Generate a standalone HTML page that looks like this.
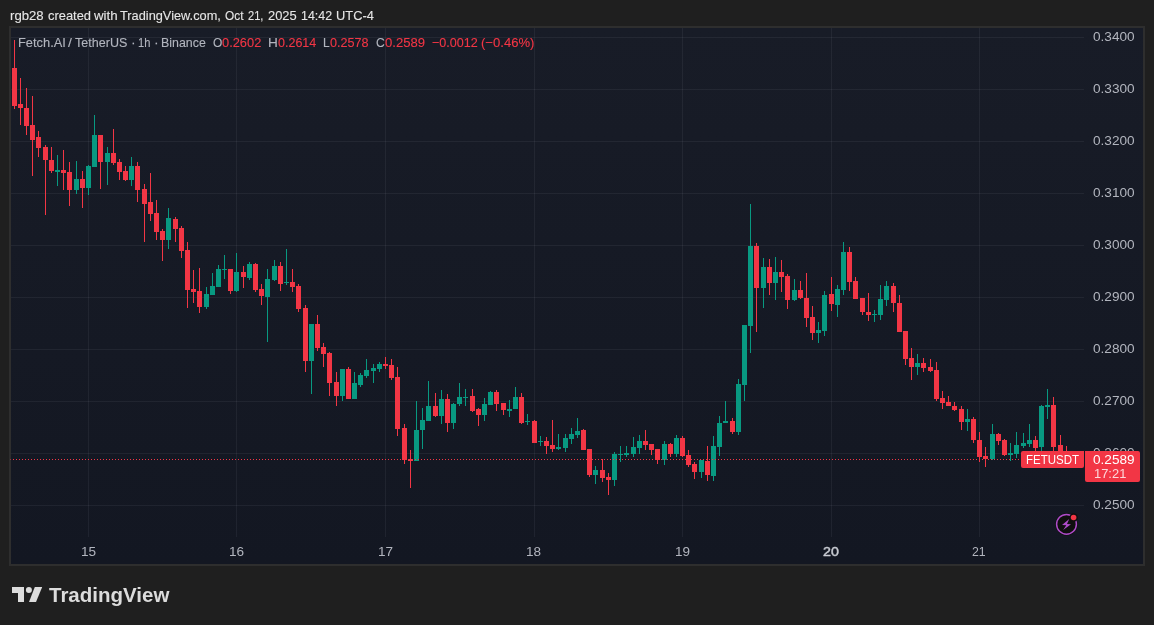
<!DOCTYPE html>
<html lang="en">
<head>
<meta charset="utf-8">
<title>FETUSDT chart</title>
<style>
html,body{margin:0;padding:0;}
body{width:1154px;height:625px;background:#1f1f1f;overflow:hidden;position:relative;
font-family:"Liberation Sans",Arial,sans-serif;}
#frame{position:absolute;left:9px;top:26px;width:1132px;height:536px;border:2px solid #2e2e2e;background:linear-gradient(to bottom,#181c27,#131722);}
#chart{position:absolute;left:0;top:0;width:1154px;height:625px;}
.t{position:absolute;display:block;white-space:pre;font-size:13px;line-height:16px;height:16px;transform-origin:0 0;}
.h{color:#e6e6e6;-webkit-text-stroke:0.1px #e6e6e6;}
.g{color:#b2b5be;-webkit-text-stroke:0.12px #b2b5be;}
.r{color:#f23645;-webkit-text-stroke:0.12px #f23645;}
.a{color:#b2b5be;}
.b{color:#c9ccd3;-webkit-text-stroke:0.45px #c9ccd3;}
#sym{position:absolute;left:1021px;top:451px;width:63px;height:17px;background:#f23645;border-radius:2px 0 2px 2px;}
#px{position:absolute;left:1085px;top:451px;width:55px;height:31px;background:#f23645;border-radius:0 2px 2px 2px;}
.w{color:#fff;}
.w2{color:rgba(255,255,255,0.8);}
#logo{position:absolute;left:0;top:0;}
#tv{position:absolute;left:49px;top:583px;font-size:20.5px;line-height:24px;font-weight:bold;color:#dcdcdc;white-space:pre;}
</style>
</head>
<body>
<div id="frame"></div>
<svg id="chart" width="1154" height="625" viewBox="0 0 1154 625" shape-rendering="crispEdges">
<rect x="11" y="37" width="1073" height="1" fill="rgba(240,243,250,0.06)"/>
<rect x="11" y="89" width="1073" height="1" fill="rgba(240,243,250,0.06)"/>
<rect x="11" y="141" width="1073" height="1" fill="rgba(240,243,250,0.06)"/>
<rect x="11" y="193" width="1073" height="1" fill="rgba(240,243,250,0.06)"/>
<rect x="11" y="245" width="1073" height="1" fill="rgba(240,243,250,0.06)"/>
<rect x="11" y="297" width="1073" height="1" fill="rgba(240,243,250,0.06)"/>
<rect x="11" y="349" width="1073" height="1" fill="rgba(240,243,250,0.06)"/>
<rect x="11" y="401" width="1073" height="1" fill="rgba(240,243,250,0.06)"/>
<rect x="11" y="453" width="1073" height="1" fill="rgba(240,243,250,0.06)"/>
<rect x="11" y="505" width="1073" height="1" fill="rgba(240,243,250,0.06)"/>
<rect x="88" y="28" width="1" height="509" fill="rgba(240,243,250,0.06)"/>
<rect x="236" y="28" width="1" height="509" fill="rgba(240,243,250,0.06)"/>
<rect x="385" y="28" width="1" height="509" fill="rgba(240,243,250,0.06)"/>
<rect x="534" y="28" width="1" height="509" fill="rgba(240,243,250,0.06)"/>
<rect x="682" y="28" width="1" height="509" fill="rgba(240,243,250,0.06)"/>
<rect x="831" y="28" width="1" height="509" fill="rgba(240,243,250,0.06)"/>
<rect x="979" y="28" width="1" height="509" fill="rgba(240,243,250,0.06)"/>
<path fill="#089981" d="M57 155h1v31h-1zM76 161h1v33h-1zM88 165h1v30h-1zM94 115h1v52h-1zM107 147h1v38h-1zM131 157h1v29h-1zM168 208h1v41h-1zM206 287h1v22h-1zM212 273h1v22h-1zM218 265h1v22h-1zM224 255h1v24h-1zM236 253h1v39h-1zM249 262h1v18h-1zM267 269h1v73h-1zM274 260h1v21h-1zM286 249h1v36h-1zM311 324h1v70h-1zM342 369h1v32h-1zM354 372h1v27h-1zM360 373h1v14h-1zM366 359h1v19h-1zM373 364h1v19h-1zM379 362h1v10h-1zM416 401h1v60h-1zM422 408h1v41h-1zM428 381h1v40h-1zM441 390h1v34h-1zM453 403h1v26h-1zM459 383h1v23h-1zM465 389h1v17h-1zM484 398h1v23h-1zM490 391h1v14h-1zM509 400h1v17h-1zM515 387h1v22h-1zM527 414h1v11h-1zM540 436h1v10h-1zM558 434h1v16h-1zM565 434h1v18h-1zM571 428h1v16h-1zM577 418h1v20h-1zM595 466h1v18h-1zM614 452h1v34h-1zM620 446h1v16h-1zM626 446h1v11h-1zM633 437h1v20h-1zM639 435h1v19h-1zM664 441h1v24h-1zM676 435h1v22h-1zM701 460h1v18h-1zM713 436h1v45h-1zM719 416h1v40h-1zM725 401h1v22h-1zM738 379h1v56h-1zM744 325h1v76h-1zM750 204h1v149h-1zM763 258h1v50h-1zM775 257h1v43h-1zM794 279h1v22h-1zM818 322h1v21h-1zM824 291h1v45h-1zM837 285h1v32h-1zM843 242h1v53h-1zM874 310h1v12h-1zM880 285h1v35h-1zM886 281h1v25h-1zM917 354h1v21h-1zM967 409h1v22h-1zM992 424h1v36h-1zM1010 443h1v18h-1zM1016 432h1v26h-1zM1023 433h1v15h-1zM1029 424h1v23h-1zM1041 405h1v47h-1zM1047 389h1v30h-1zM55 170h5v2h-5zM74 179h5v11h-5zM86 166h5v22h-5zM92 135h5v32h-5zM105 153h5v9h-5zM129 166h5v14h-5zM166 218h5v22h-5zM204 294h5v13h-5zM210 286h5v9h-5zM216 269h5v18h-5zM222 269h5v1h-5zM234 272h5v19h-5zM247 264h5v14h-5zM265 279h5v18h-5zM272 266h5v14h-5zM284 282h5v1h-5zM309 324h5v37h-5zM340 369h5v27h-5zM352 383h5v16h-5zM358 375h5v10h-5zM364 370h5v6h-5zM371 368h5v3h-5zM377 364h5v5h-5zM414 430h5v31h-5zM420 420h5v10h-5zM426 406h5v15h-5zM439 399h5v17h-5zM451 404h5v19h-5zM457 397h5v7h-5zM463 397h5v1h-5zM482 404h5v11h-5zM488 392h5v13h-5zM507 409h5v2h-5zM513 397h5v12h-5zM525 421h5v1h-5zM538 441h5v1h-5zM556 447h5v2h-5zM563 438h5v10h-5zM569 434h5v5h-5zM575 431h5v4h-5zM593 470h5v5h-5zM612 454h5v26h-5zM618 454h5v1h-5zM624 453h5v2h-5zM631 447h5v7h-5zM637 441h5v7h-5zM662 444h5v16h-5zM674 438h5v16h-5zM699 460h5v12h-5zM711 446h5v30h-5zM717 423h5v24h-5zM723 421h5v2h-5zM736 384h5v48h-5zM742 325h5v60h-5zM748 246h5v80h-5zM761 267h5v21h-5zM773 272h5v11h-5zM792 290h5v10h-5zM816 330h5v3h-5zM822 295h5v36h-5zM835 289h5v16h-5zM841 252h5v38h-5zM872 314h5v1h-5zM878 299h5v16h-5zM884 286h5v14h-5zM915 363h5v4h-5zM965 419h5v3h-5zM990 434h5v25h-5zM1008 453h5v2h-5zM1014 445h5v9h-5zM1021 443h5v3h-5zM1027 440h5v4h-5zM1039 406h5v41h-5zM1045 405h5v2h-5z"/>
<path fill="#f23645" d="M14 40h1v69h-1zM20 78h1v47h-1zM26 88h1v47h-1zM32 96h1v80h-1zM38 131h1v26h-1zM45 145h1v70h-1zM51 147h1v26h-1zM63 150h1v40h-1zM69 162h1v44h-1zM82 171h1v37h-1zM100 135h1v54h-1zM113 129h1v36h-1zM119 159h1v21h-1zM125 166h1v15h-1zM137 162h1v40h-1zM144 184h1v58h-1zM150 173h1v48h-1zM156 200h1v40h-1zM162 229h1v32h-1zM175 217h1v25h-1zM181 226h1v32h-1zM187 242h1v66h-1zM193 270h1v33h-1zM199 268h1v45h-1zM230 269h1v25h-1zM243 266h1v22h-1zM255 263h1v29h-1zM261 284h1v21h-1zM280 262h1v29h-1zM292 269h1v23h-1zM298 284h1v28h-1zM305 305h1v67h-1zM317 315h1v36h-1zM323 343h1v24h-1zM329 352h1v44h-1zM336 372h1v34h-1zM348 367h1v32h-1zM385 357h1v12h-1zM391 359h1v21h-1zM397 367h1v69h-1zM404 424h1v40h-1zM410 450h1v38h-1zM435 393h1v24h-1zM447 394h1v38h-1zM472 389h1v23h-1zM478 408h1v18h-1zM496 390h1v21h-1zM503 403h1v12h-1zM521 393h1v31h-1zM534 420h1v23h-1zM546 437h1v17h-1zM552 420h1v32h-1zM583 429h1v21h-1zM589 449h1v28h-1zM602 459h1v23h-1zM608 473h1v22h-1zM645 430h1v20h-1zM651 444h1v11h-1zM657 449h1v15h-1zM670 443h1v14h-1zM682 436h1v21h-1zM688 450h1v17h-1zM694 462h1v17h-1zM707 446h1v35h-1zM732 418h1v16h-1zM756 243h1v89h-1zM769 259h1v36h-1zM781 260h1v32h-1zM787 274h1v35h-1zM800 281h1v18h-1zM806 273h1v54h-1zM812 306h1v34h-1zM831 277h1v34h-1zM849 247h1v44h-1zM855 277h1v22h-1zM862 298h1v17h-1zM868 293h1v28h-1zM893 283h1v29h-1zM899 295h1v37h-1zM905 331h1v34h-1zM911 348h1v32h-1zM923 358h1v14h-1zM930 359h1v13h-1zM936 362h1v39h-1zM942 391h1v18h-1zM948 396h1v10h-1zM954 402h1v9h-1zM961 406h1v24h-1zM973 417h1v26h-1zM979 432h1v30h-1zM985 447h1v20h-1zM998 433h1v12h-1zM1004 439h1v17h-1zM1035 436h1v19h-1zM1053 397h1v58h-1zM1060 435h1v23h-1zM1066 446h1v18h-1zM12 68h5v38h-5zM18 104h5v4h-5zM24 108h5v18h-5zM30 125h5v15h-5zM36 137h5v11h-5zM43 147h5v13h-5zM49 160h5v11h-5zM61 170h5v3h-5zM67 172h5v18h-5zM80 179h5v9h-5zM98 135h5v27h-5zM111 153h5v10h-5zM117 162h5v10h-5zM123 171h5v9h-5zM135 166h5v24h-5zM142 189h5v15h-5zM148 202h5v12h-5zM154 213h5v19h-5zM160 231h5v9h-5zM173 219h5v10h-5zM179 228h5v23h-5zM185 250h5v40h-5zM191 289h5v3h-5zM197 291h5v16h-5zM228 269h5v22h-5zM241 272h5v5h-5zM253 264h5v26h-5zM259 289h5v7h-5zM278 266h5v18h-5zM290 282h5v5h-5zM296 286h5v23h-5zM303 308h5v53h-5zM315 324h5v24h-5zM321 347h5v7h-5zM327 353h5v30h-5zM334 382h5v14h-5zM346 369h5v30h-5zM383 364h5v2h-5zM389 365h5v13h-5zM395 377h5v52h-5zM402 428h5v32h-5zM408 459h5v2h-5zM433 406h5v10h-5zM445 399h5v24h-5zM470 396h5v15h-5zM476 409h5v6h-5zM494 392h5v12h-5zM501 403h5v7h-5zM519 397h5v26h-5zM532 421h5v22h-5zM544 441h5v5h-5zM550 445h5v4h-5zM581 430h5v20h-5zM587 449h5v26h-5zM600 470h5v8h-5zM606 477h5v3h-5zM643 441h5v4h-5zM649 444h5v6h-5zM655 449h5v11h-5zM668 444h5v10h-5zM680 438h5v18h-5zM686 455h5v10h-5zM692 464h5v8h-5zM705 461h5v14h-5zM730 421h5v11h-5zM754 246h5v42h-5zM767 267h5v16h-5zM779 272h5v5h-5zM785 276h5v24h-5zM798 290h5v8h-5zM804 298h5v20h-5zM810 317h5v16h-5zM829 294h5v10h-5zM847 252h5v30h-5zM853 281h5v18h-5zM860 298h5v14h-5zM866 312h5v3h-5zM891 286h5v17h-5zM897 303h5v29h-5zM903 331h5v28h-5zM909 358h5v9h-5zM921 363h5v5h-5zM928 367h5v4h-5zM934 370h5v29h-5zM940 398h5v5h-5zM946 402h5v4h-5zM952 406h5v4h-5zM959 409h5v13h-5zM971 419h5v21h-5zM977 440h5v17h-5zM983 456h5v3h-5zM996 434h5v7h-5zM1002 440h5v15h-5zM1033 440h5v8h-5zM1051 405h5v42h-5zM1058 445h5v7h-5zM1064 452h5v7h-5z"/>
<path fill="#f23645" d="M13 459h1v1h-1zM16 459h1v1h-1zM19 459h1v1h-1zM22 459h1v1h-1zM25 459h1v1h-1zM28 459h1v1h-1zM31 459h1v1h-1zM34 459h1v1h-1zM37 459h1v1h-1zM40 459h1v1h-1zM43 459h1v1h-1zM46 459h1v1h-1zM49 459h1v1h-1zM52 459h1v1h-1zM55 459h1v1h-1zM58 459h1v1h-1zM61 459h1v1h-1zM64 459h1v1h-1zM67 459h1v1h-1zM70 459h1v1h-1zM73 459h1v1h-1zM76 459h1v1h-1zM79 459h1v1h-1zM82 459h1v1h-1zM85 459h1v1h-1zM88 459h1v1h-1zM91 459h1v1h-1zM94 459h1v1h-1zM97 459h1v1h-1zM100 459h1v1h-1zM103 459h1v1h-1zM106 459h1v1h-1zM109 459h1v1h-1zM112 459h1v1h-1zM115 459h1v1h-1zM118 459h1v1h-1zM121 459h1v1h-1zM124 459h1v1h-1zM127 459h1v1h-1zM130 459h1v1h-1zM133 459h1v1h-1zM136 459h1v1h-1zM139 459h1v1h-1zM142 459h1v1h-1zM145 459h1v1h-1zM148 459h1v1h-1zM151 459h1v1h-1zM154 459h1v1h-1zM157 459h1v1h-1zM160 459h1v1h-1zM163 459h1v1h-1zM166 459h1v1h-1zM169 459h1v1h-1zM172 459h1v1h-1zM175 459h1v1h-1zM178 459h1v1h-1zM181 459h1v1h-1zM184 459h1v1h-1zM187 459h1v1h-1zM190 459h1v1h-1zM193 459h1v1h-1zM196 459h1v1h-1zM199 459h1v1h-1zM202 459h1v1h-1zM205 459h1v1h-1zM208 459h1v1h-1zM211 459h1v1h-1zM214 459h1v1h-1zM217 459h1v1h-1zM220 459h1v1h-1zM223 459h1v1h-1zM226 459h1v1h-1zM229 459h1v1h-1zM232 459h1v1h-1zM235 459h1v1h-1zM238 459h1v1h-1zM241 459h1v1h-1zM244 459h1v1h-1zM247 459h1v1h-1zM250 459h1v1h-1zM253 459h1v1h-1zM256 459h1v1h-1zM259 459h1v1h-1zM262 459h1v1h-1zM265 459h1v1h-1zM268 459h1v1h-1zM271 459h1v1h-1zM274 459h1v1h-1zM277 459h1v1h-1zM280 459h1v1h-1zM283 459h1v1h-1zM286 459h1v1h-1zM289 459h1v1h-1zM292 459h1v1h-1zM295 459h1v1h-1zM298 459h1v1h-1zM301 459h1v1h-1zM304 459h1v1h-1zM307 459h1v1h-1zM310 459h1v1h-1zM313 459h1v1h-1zM316 459h1v1h-1zM319 459h1v1h-1zM322 459h1v1h-1zM325 459h1v1h-1zM328 459h1v1h-1zM331 459h1v1h-1zM334 459h1v1h-1zM337 459h1v1h-1zM340 459h1v1h-1zM343 459h1v1h-1zM346 459h1v1h-1zM349 459h1v1h-1zM352 459h1v1h-1zM355 459h1v1h-1zM358 459h1v1h-1zM361 459h1v1h-1zM364 459h1v1h-1zM367 459h1v1h-1zM370 459h1v1h-1zM373 459h1v1h-1zM376 459h1v1h-1zM379 459h1v1h-1zM382 459h1v1h-1zM385 459h1v1h-1zM388 459h1v1h-1zM391 459h1v1h-1zM394 459h1v1h-1zM397 459h1v1h-1zM400 459h1v1h-1zM403 459h1v1h-1zM406 459h1v1h-1zM409 459h1v1h-1zM412 459h1v1h-1zM415 459h1v1h-1zM418 459h1v1h-1zM421 459h1v1h-1zM424 459h1v1h-1zM427 459h1v1h-1zM430 459h1v1h-1zM433 459h1v1h-1zM436 459h1v1h-1zM439 459h1v1h-1zM442 459h1v1h-1zM445 459h1v1h-1zM448 459h1v1h-1zM451 459h1v1h-1zM454 459h1v1h-1zM457 459h1v1h-1zM460 459h1v1h-1zM463 459h1v1h-1zM466 459h1v1h-1zM469 459h1v1h-1zM472 459h1v1h-1zM475 459h1v1h-1zM478 459h1v1h-1zM481 459h1v1h-1zM484 459h1v1h-1zM487 459h1v1h-1zM490 459h1v1h-1zM493 459h1v1h-1zM496 459h1v1h-1zM499 459h1v1h-1zM502 459h1v1h-1zM505 459h1v1h-1zM508 459h1v1h-1zM511 459h1v1h-1zM514 459h1v1h-1zM517 459h1v1h-1zM520 459h1v1h-1zM523 459h1v1h-1zM526 459h1v1h-1zM529 459h1v1h-1zM532 459h1v1h-1zM535 459h1v1h-1zM538 459h1v1h-1zM541 459h1v1h-1zM544 459h1v1h-1zM547 459h1v1h-1zM550 459h1v1h-1zM553 459h1v1h-1zM556 459h1v1h-1zM559 459h1v1h-1zM562 459h1v1h-1zM565 459h1v1h-1zM568 459h1v1h-1zM571 459h1v1h-1zM574 459h1v1h-1zM577 459h1v1h-1zM580 459h1v1h-1zM583 459h1v1h-1zM586 459h1v1h-1zM589 459h1v1h-1zM592 459h1v1h-1zM595 459h1v1h-1zM598 459h1v1h-1zM601 459h1v1h-1zM604 459h1v1h-1zM607 459h1v1h-1zM610 459h1v1h-1zM613 459h1v1h-1zM616 459h1v1h-1zM619 459h1v1h-1zM622 459h1v1h-1zM625 459h1v1h-1zM628 459h1v1h-1zM631 459h1v1h-1zM634 459h1v1h-1zM637 459h1v1h-1zM640 459h1v1h-1zM643 459h1v1h-1zM646 459h1v1h-1zM649 459h1v1h-1zM652 459h1v1h-1zM655 459h1v1h-1zM658 459h1v1h-1zM661 459h1v1h-1zM664 459h1v1h-1zM667 459h1v1h-1zM670 459h1v1h-1zM673 459h1v1h-1zM676 459h1v1h-1zM679 459h1v1h-1zM682 459h1v1h-1zM685 459h1v1h-1zM688 459h1v1h-1zM691 459h1v1h-1zM694 459h1v1h-1zM697 459h1v1h-1zM700 459h1v1h-1zM703 459h1v1h-1zM706 459h1v1h-1zM709 459h1v1h-1zM712 459h1v1h-1zM715 459h1v1h-1zM718 459h1v1h-1zM721 459h1v1h-1zM724 459h1v1h-1zM727 459h1v1h-1zM730 459h1v1h-1zM733 459h1v1h-1zM736 459h1v1h-1zM739 459h1v1h-1zM742 459h1v1h-1zM745 459h1v1h-1zM748 459h1v1h-1zM751 459h1v1h-1zM754 459h1v1h-1zM757 459h1v1h-1zM760 459h1v1h-1zM763 459h1v1h-1zM766 459h1v1h-1zM769 459h1v1h-1zM772 459h1v1h-1zM775 459h1v1h-1zM778 459h1v1h-1zM781 459h1v1h-1zM784 459h1v1h-1zM787 459h1v1h-1zM790 459h1v1h-1zM793 459h1v1h-1zM796 459h1v1h-1zM799 459h1v1h-1zM802 459h1v1h-1zM805 459h1v1h-1zM808 459h1v1h-1zM811 459h1v1h-1zM814 459h1v1h-1zM817 459h1v1h-1zM820 459h1v1h-1zM823 459h1v1h-1zM826 459h1v1h-1zM829 459h1v1h-1zM832 459h1v1h-1zM835 459h1v1h-1zM838 459h1v1h-1zM841 459h1v1h-1zM844 459h1v1h-1zM847 459h1v1h-1zM850 459h1v1h-1zM853 459h1v1h-1zM856 459h1v1h-1zM859 459h1v1h-1zM862 459h1v1h-1zM865 459h1v1h-1zM868 459h1v1h-1zM871 459h1v1h-1zM874 459h1v1h-1zM877 459h1v1h-1zM880 459h1v1h-1zM883 459h1v1h-1zM886 459h1v1h-1zM889 459h1v1h-1zM892 459h1v1h-1zM895 459h1v1h-1zM898 459h1v1h-1zM901 459h1v1h-1zM904 459h1v1h-1zM907 459h1v1h-1zM910 459h1v1h-1zM913 459h1v1h-1zM916 459h1v1h-1zM919 459h1v1h-1zM922 459h1v1h-1zM925 459h1v1h-1zM928 459h1v1h-1zM931 459h1v1h-1zM934 459h1v1h-1zM937 459h1v1h-1zM940 459h1v1h-1zM943 459h1v1h-1zM946 459h1v1h-1zM949 459h1v1h-1zM952 459h1v1h-1zM955 459h1v1h-1zM958 459h1v1h-1zM961 459h1v1h-1zM964 459h1v1h-1zM967 459h1v1h-1zM970 459h1v1h-1zM973 459h1v1h-1zM976 459h1v1h-1zM979 459h1v1h-1zM982 459h1v1h-1zM985 459h1v1h-1zM988 459h1v1h-1zM991 459h1v1h-1zM994 459h1v1h-1zM997 459h1v1h-1zM1000 459h1v1h-1zM1003 459h1v1h-1zM1006 459h1v1h-1zM1009 459h1v1h-1zM1012 459h1v1h-1zM1015 459h1v1h-1zM1018 459h1v1h-1zM1021 459h1v1h-1zM1024 459h1v1h-1zM1027 459h1v1h-1zM1030 459h1v1h-1zM1033 459h1v1h-1zM1036 459h1v1h-1zM1039 459h1v1h-1zM1042 459h1v1h-1zM1045 459h1v1h-1zM1048 459h1v1h-1zM1051 459h1v1h-1zM1054 459h1v1h-1zM1057 459h1v1h-1zM1060 459h1v1h-1zM1063 459h1v1h-1zM1066 459h1v1h-1zM1069 459h1v1h-1zM1072 459h1v1h-1zM1075 459h1v1h-1zM1078 459h1v1h-1zM1081 459h1v1h-1z"/>
<rect x="10" y="459" width="1" height="1" fill="#f23645" opacity="0.55"/>
</svg>
<span class="t h" style="left:9.84px;top:8px;transform:scaleX(1.0125)">rgb28</span>
<span class="t h" style="left:47.80px;top:8px;transform:scaleX(0.9929)">created</span>
<span class="t h" style="left:94.00px;top:8px;transform:scaleX(1.0247)">with</span>
<span class="t h" style="left:120.05px;top:8px;transform:scaleX(0.9827)">TradingView.com,</span>
<span class="t h" style="left:224.74px;top:8px;transform:scaleX(0.9114)">Oct</span>
<span class="t h" style="left:247.87px;top:8px;transform:scaleX(0.8545)">21,</span>
<span class="t h" style="left:267.70px;top:8px;transform:scaleX(0.9929)">2025</span>
<span class="t h" style="left:300.95px;top:8px;transform:scaleX(0.9548)">14:42</span>
<span class="t h" style="left:335.51px;top:8px;transform:scaleX(0.9892)">UTC-4</span>
<span class="t g" style="left:17.71px;top:35px;transform:scaleX(0.9903)">Fetch.AI</span>
<span class="t g" style="left:68.41px;top:35px;transform:scaleX(1.0800)">/</span>
<span class="t g" style="left:75.46px;top:35px;transform:scaleX(0.9653)">TetherUS</span>
<span class="t g" style="left:130.81px;top:35px;transform:scaleX(1.0800)">·</span>
<span class="t g" style="left:137.75px;top:35px;transform:scaleX(0.8549)">1h</span>
<span class="t g" style="left:153.91px;top:35px;transform:scaleX(1.0800)">·</span>
<span class="t g" style="left:160.95px;top:35px;transform:scaleX(0.9538)">Binance</span>
<span class="t g" style="left:212.74px;top:35px;transform:scaleX(0.9222)">O</span>
<span class="t r" style="left:222.41px;top:35px;transform:scaleX(0.9884)">0.2602</span>
<span class="t g" style="left:268.35px;top:35px;transform:scaleX(1.0483)">H</span>
<span class="t r" style="left:277.82px;top:35px;transform:scaleX(0.9615)">0.2614</span>
<span class="t g" style="left:322.74px;top:35px;transform:scaleX(0.9200)">L</span>
<span class="t r" style="left:330.31px;top:35px;transform:scaleX(0.9703)">0.2578</span>
<span class="t g" style="left:376.20px;top:35px;transform:scaleX(0.9375)">C</span>
<span class="t r" style="left:384.50px;top:35px;transform:scaleX(1.0090)">0.2589</span>
<span class="t r" style="left:431.52px;top:35px;transform:scaleX(0.9686)">−0.0012</span>
<span class="t r" style="left:480.85px;top:35px;transform:scaleX(1.0058)">(−0.46%)</span>
<span class="t a" style="left:1092.78px;top:29px;transform:scaleX(1.0477)">0.3400</span>
<span class="t a" style="left:1092.78px;top:81px;transform:scaleX(1.0477)">0.3300</span>
<span class="t a" style="left:1092.78px;top:133px;transform:scaleX(1.0477)">0.3200</span>
<span class="t a" style="left:1092.78px;top:185px;transform:scaleX(1.0477)">0.3100</span>
<span class="t a" style="left:1092.78px;top:237px;transform:scaleX(1.0477)">0.3000</span>
<span class="t a" style="left:1092.78px;top:289px;transform:scaleX(1.0477)">0.2900</span>
<span class="t a" style="left:1092.78px;top:341px;transform:scaleX(1.0477)">0.2800</span>
<span class="t a" style="left:1092.78px;top:393px;transform:scaleX(1.0477)">0.2700</span>
<span class="t a" style="left:1092.78px;top:445px;transform:scaleX(1.0477)">0.2600</span>
<span class="t a" style="left:1092.78px;top:497px;transform:scaleX(1.0477)">0.2500</span>
<span class="t a" style="left:80.55px;top:544px;transform:scaleX(1.0462)">15</span>
<span class="t a" style="left:229.05px;top:544px;transform:scaleX(1.0462)">16</span>
<span class="t a" style="left:377.66px;top:544px;transform:scaleX(1.0431)">17</span>
<span class="t a" style="left:526.06px;top:544px;transform:scaleX(1.0385)">18</span>
<span class="t a" style="left:674.76px;top:544px;transform:scaleX(1.0385)">19</span>
<span class="t a" style="left:972.13px;top:544px;transform:scaleX(0.9481)">21</span>
<span class="t b" style="left:822.75px;top:544px;transform:scaleX(1.0963)">20</span>
<div id="sym"></div>
<div id="px"></div>
<span class="t w" style="left:1025.58px;top:451.5px;font-size:12.5px;transform:scaleX(0.9204)">FETUSDT</span>
<span class="t w" style="left:1093.18px;top:452px;font-size:13px;transform:scaleX(1.0452)">0.2589</span>
<span class="t w2" style="left:1093.51px;top:466px;font-size:13px;transform:scaleX(0.9935)">17:21</span>
<svg id="icon" style="position:absolute;left:1054px;top:512px" width="26" height="26" viewBox="0 0 26 26">
<circle cx="12.5" cy="12.3" r="11.1" fill="#0f0f0f"/>
<circle cx="12.5" cy="12.3" r="9.9" fill="none" stroke="#ae4bc8" stroke-width="1.5"/>
<path d="M15.2 7 L8.05 12.9 L12.3 13.2 L9.2 17.9 L17 12.15 L13 11.9 Z" fill="#ae4bc8"/>
<circle cx="19.6" cy="5.5" r="4.3" fill="#0f0f0f"/>
<circle cx="19.6" cy="5.5" r="2.8" fill="#f23645"/>
</svg>
<svg id="logo" width="50" height="625" viewBox="0 0 50 625">
<path fill="#dcdcdc" d="M12 587h12v15h-6v-9h-6z"/>
<circle cx="28.9" cy="590" r="3" fill="#dcdcdc"/>
<path fill="#dcdcdc" d="M34.8 587h7.4l-6.2 15h-7z"/>
</svg>
<div id="tv">TradingView</div>
</body>
</html>
